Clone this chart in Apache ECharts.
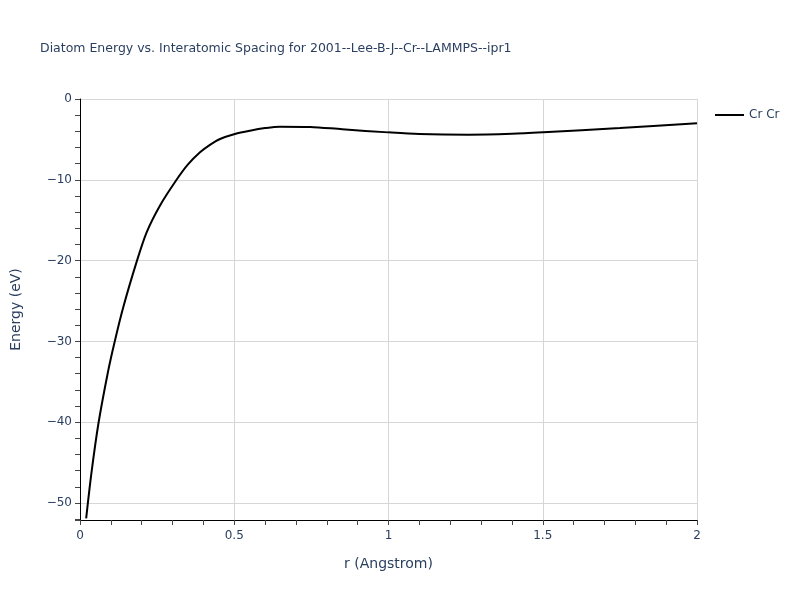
<!DOCTYPE html>
<html>
<head>
<meta charset="utf-8">
<script src="https://cdn.jsdelivr.net/npm/echarts@6/dist/echarts.min.js"></script>
<style>html,body{margin:0;padding:0;background:#fff}#c{width:800px;height:600px}</style>
</head>
<body>
<div id="c"></div>
<script>
const seriesName = "Cr Cr";
const rValues = [0.020, 0.037, 0.060, 0.090, 0.112, 0.140, 0.184, 0.216, 0.259, 0.313, 0.350, 0.389, 0.420, 0.454, 0.502, 0.551, 0.600, 0.648, 0.746, 0.850, 1.000, 1.100, 1.260, 1.400, 1.502, 1.750, 2.000];
const energyValues = [-51.9, -46.3, -40.1, -33.9, -30.1, -25.8, -20.1, -16.5, -13.2, -10.0, -8.1, -6.6, -5.7, -4.95, -4.33, -3.92, -3.6, -3.42, -3.45, -3.75, -4.13, -4.33, -4.41, -4.3, -4.12, -3.6, -3.0];
const xTicks = [0, 0.5, 1, 1.5, 2];
const yTicks = [-50, -40, -30, -20, -10, 0];

const font = '"DejaVu Sans", Verdana, sans-serif';
const textColor = '#2a3f5f';
const chart = echarts.init(document.getElementById('c'), null, {renderer: 'canvas'});
chart.setOption({
  animation: false,
  backgroundColor: '#fff',
  title: {
    text: 'Diatom Energy vs. Interatomic Spacing for 2001--Lee-B-J--Cr--LAMMPS--ipr1',
    left: 35, top: 37,
    textStyle: {fontFamily: font, fontSize: 12.5, fontWeight: 'normal', color: textColor}
  },
  legend: {
    left: 710, top: 104,
    icon: 'rect',
    itemWidth: 29, itemHeight: 2, itemGap: 6,
    textStyle: {fontFamily: font, fontSize: 12, color: textColor},
    data: [{name: seriesName}]
  },
  grid: {left: 80, right: 103, top: 99, bottom: 80, containLabel: false},
  xAxis: {
    type: 'value', min: xTicks[0], max: xTicks[xTicks.length - 1], interval: 0.5,
    name: 'r (Angstrom)', nameLocation: 'middle', nameGap: 37,
    nameTextStyle: {fontFamily: font, fontSize: 14, color: textColor},
    axisLine: {onZero: false, lineStyle: {color: '#000', width: 1}},
    axisTick: {show: true, inside: false, length: 5, lineStyle: {color: '#444'}},
    minorTick: {show: true, splitNumber: 5, length: 5, lineStyle: {color: '#444'}},
    axisLabel: {fontFamily: font, fontSize: 12, color: textColor, margin: 10,
      formatter: v => String(v)},
    splitLine: {show: true, lineStyle: {color: '#d6d6d6', width: 1}}
  },
  yAxis: {
    type: 'value', min: -52.1, max: 0, splitNumber: 5,
    name: 'Energy (eV)', nameLocation: 'middle', nameGap: 57,
    nameTextStyle: {fontFamily: font, fontSize: 14, color: textColor},
    axisLine: {onZero: false, lineStyle: {color: '#000', width: 1}},
    axisTick: {show: true, inside: false, length: 5, lineStyle: {color: '#444'}},
    minorTick: {show: true, splitNumber: 5, length: 5, lineStyle: {color: '#444'}},
    axisLabel: {fontFamily: font, fontSize: 12, color: textColor, margin: 8, showMinLabel: false,
      formatter: v => (yTicks.indexOf(v) >= 0 ? (v < 0 ? '\u2212' + Math.abs(v) : String(v)) : '')},
    splitLine: {show: true, lineStyle: {color: '#d6d6d6', width: 1}}
  },
  series: [{
    name: seriesName, type: 'line', symbol: 'none', smooth: 0.3,
    lineStyle: {color: '#000', width: 2}, itemStyle: {color: '#000'},
    data: rValues.map((r, i) => [r, energyValues[i]])
  }]
});
</script>
</body>
</html>
